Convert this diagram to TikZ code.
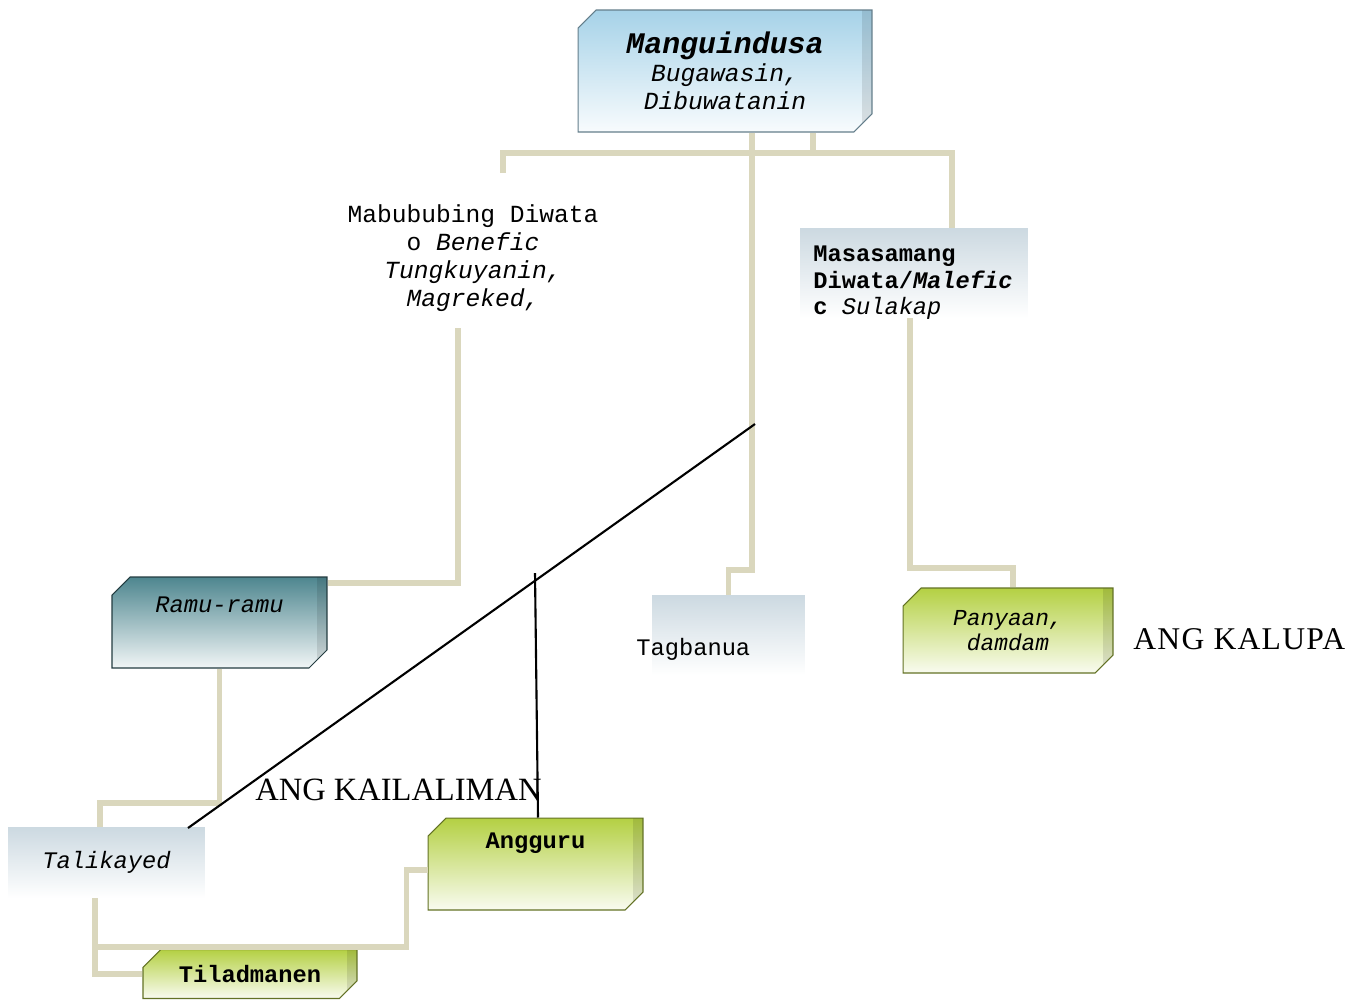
\documentclass[tikz,border=0pt]{standalone}
\usepackage{fontspec}
\setmainfont{Liberation Serif}
\newfontfamily\typew{Liberation Mono}
\newfontfamily\spacedserif{Liberation Serif}[LetterSpace=4]
\usetikzlibrary{shapes.misc}
\definecolor{linkc}{HTML}{DAD7BD}
\definecolor{skyc}{HTML}{A6D2E8}
\definecolor{tealc}{HTML}{4E868F}
\definecolor{leafc}{HTML}{B4D043}
\definecolor{ghostc}{HTML}{CCD9E1}
\begin{document}
\begin{tikzpicture}[x=0.02cm,y=-0.02cm,
	link/.style={draw=linkc,line width=3.4pt},
	pointer/.style={draw=black,line width=1.2pt},
	slab/.style 2 args={chamfered rectangle,chamfered rectangle corners={north west,south east},
		chamfered rectangle xsep=0.18cm,chamfered rectangle ysep=0.18cm,inner sep=0pt,
		top color=#1,bottom color=white!92!#1,draw=#2,line width=0.6pt,align=center,
		font=\typew\fontsize{13.5pt}{16pt}\selectfont,
		path picture={\fill[black,opacity=0.1] ([xshift=-0.2cm]path picture bounding box.north east) rectangle (path picture bounding box.south east);}},
	ghost/.style={rectangle,inner sep=0pt,top color=ghostc,middle color=white,bottom color=white,
		font=\typew\fontsize{13.5pt}{16pt}\selectfont},
	plain/.style={inner sep=0pt,align=center,font=\typew\fontsize{14pt}{15.9pt}\selectfont},
	bigcaps/.style={inner sep=0pt,anchor=base west,font=\fontsize{18.5pt}{20pt}\selectfont}]
	\useasboundingbox (0,0) rectangle (1361,1002);
	% boxes
	\node[slab={skyc}{skyc!60!black},minimum width=5.88cm,minimum height=2.44cm,font=\typew\fontsize{14pt}{15.9pt}\selectfont] (mang) at (725,71)
		{{\bfseries\itshape\fontsize{17pt}{18pt}\selectfont Manguindusa}\\\itshape Bugawasin,\\\itshape Dibuwatanin};
	\node[plain] (benefic) at (473,258)
		{Mabububing Diwata\\o \textit{Benefic}\\\textit{Tungkuyanin,}\\\textit{Magreked,}};
	\node[ghost,minimum width=4.56cm,minimum height=1.8cm] (masa) at (914,273) {};
	\node[plain,anchor=north west,align=left,font=\typew\fontsize{13.5pt}{15pt}\selectfont] (masatext) at (813,246)
		{\bfseries Masasamang\\\bfseries Diwata/{\itshape Malefic}\\\bfseries c {\mdseries\itshape Sulakap}};
	\node[slab={tealc}{tealc!45!black},minimum width=4.3cm,minimum height=1.82cm,text height=0.3cm,text depth=0.72cm] (ramu) at (219.5,622.5) {\itshape Ramu-ramu};
	\node[ghost,minimum width=3.06cm,minimum height=1.6cm] (tagbox) at (728.5,635) {};
	\node[plain,anchor=base west,font=\typew\fontsize{13.5pt}{16pt}\selectfont] (tagbanua) at (636,655) {Tagbanua};
	\node[slab={leafc}{leafc!55!black},minimum width=4.2cm,minimum height=1.7cm,font=\typew\itshape\fontsize{13pt}{14.5pt}\selectfont] (pany) at (1008,630.5) {Panyaan,\\damdam};
	\node[ghost,minimum width=3.94cm,minimum height=1.42cm] (tali) at (106.5,862.5) {\itshape Talikayed};
	\node[slab={leafc}{leafc!55!black},minimum width=4.3cm,minimum height=1.84cm,text height=0.3cm,text depth=0.94cm] (angg) at (535.5,864) {\bfseries Angguru};
	\node[slab={leafc}{leafc!55!black},minimum width=4.28cm,minimum height=0.98cm] (tilad) at (250,974) {\bfseries Tiladmanen};
	% connectors
	\coordinate (elbow) at (752,570);
	\coordinate (busL) at (503,173);
	\coordinate (busR) at (952,153);
	\coordinate (bentop) at (458,328);
	\coordinate (lowbus) at (95,947);
	\draw[link] (mang.south -| elbow) -- (elbow) -| (tagbox.north);
	\draw[link] ([xshift=1.76cm]mang.south) -- ++(0,21);
	\draw[link] (busL) |- (busR) -- (busR |- masa.north);
	\draw[link] (bentop) |- ([yshift=0.8cm]ramu.east);
	\draw[link] ([xshift=-0.08cm]masa.south) -- ++(0,250) -| ([xshift=0.1cm]pany.north);
	\draw[link] (ramu.south) -- ++(0,134) -| ([xshift=-0.13cm]tali.north);
	\draw[link] ([xshift=-0.23cm]tali.south) |- (tilad.west);
	\draw[link] (lowbus) -| ([xshift=-0.42cm,yshift=-0.12cm]angg.west) -- ([yshift=-0.12cm]angg.west);
	% pointers
	\coordinate (kaitop) at (755,424);
	\coordinate (kaibot) at (188,828);
	\coordinate (angtop) at (535,573);
	\draw[pointer] (kaitop) -- (kaibot);
	\draw[pointer] (angtop) -- (angg.north -| 538,0);
	\node[bigcaps] (kailaliman) at (255,800) {ANG KAILALIMAN};
	\node[bigcaps,font=\spacedserif\fontsize{18pt}{20pt}\selectfont] (kalupa) at (1133,649) {ANG KALUPA};
\end{tikzpicture}
\end{document}
